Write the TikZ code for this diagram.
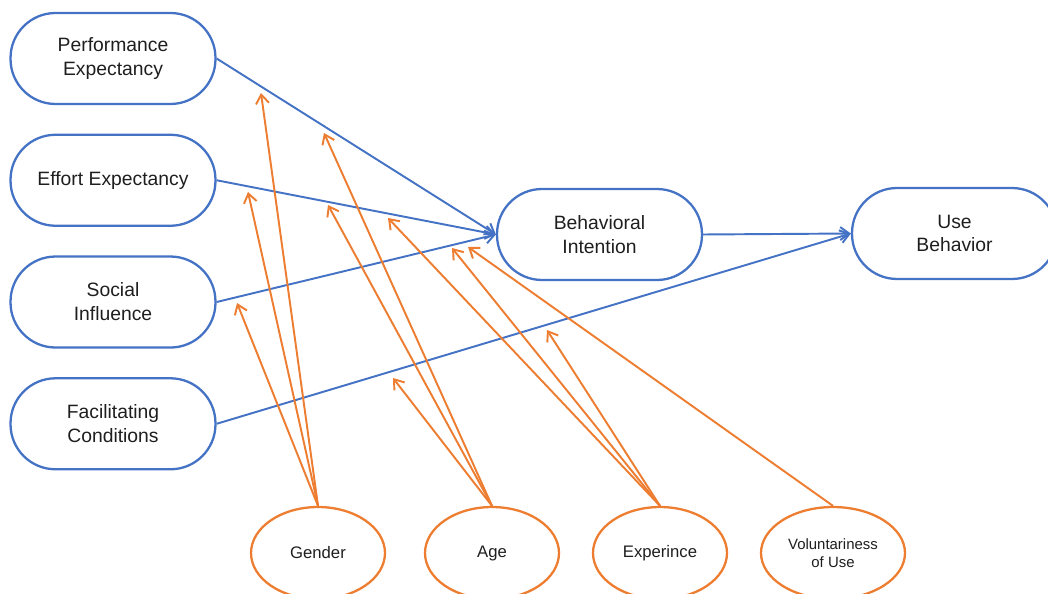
\documentclass[tikz,border=0pt]{standalone}
\usepackage{fontspec}
\setmainfont{Liberation Sans}
\usetikzlibrary{positioning,shapes.geometric,arrows.meta}
\definecolor{utblue}{HTML}{4472C4}
\definecolor{utorange}{HTML}{ED7D31}
\definecolor{uttext}{HTML}{1E1E1E}

\begin{document}
\begin{tikzpicture}[x=0.02cm, y=-0.02cm]
        \tikzstyle{construct}=[draw=utblue, line width=1.3pt, rectangle, rounded corners=0.9cm, minimum width=4.1cm, minimum height=1.82cm, align=center, text=uttext, font=\fontsize{11}{13.6}\selectfont]
        \tikzstyle{moderator}=[draw=utorange, line width=1.3pt, ellipse, inner sep=0pt, minimum width=2.68cm, minimum height=1.84cm, align=center, text=uttext, font=\fontsize{9.5}{11}\selectfont]
        \tikzstyle{effect}=[draw=utblue, line width=1.1pt, -{Straight Barb[length=1.8mm, width=2.6mm]}]
        \tikzstyle{moderation}=[draw=utorange, line width=1.1pt, -{Straight Barb[length=1.8mm, width=2.6mm]}]

        \useasboundingbox (0,0) rectangle (1048,594);

        \node   (pe)  [construct] at (113,58.5) {Performance\\Expectancy};
        \node   (ee)  [construct, below=0.57cm of pe] {Effort Expectancy};
        \node   (si)  [construct, below=0.57cm of ee] {Social\\Influence};
        \node   (fc)  [construct, below=0.57cm of si] {Facilitating\\Conditions};
        \node   (bi)  [construct] at (599.5,234.5) {Behavioral\\Intention};
        \node   (ub)  [construct] at (954.5,233.5) {Use\\Behavior};

        \node   (gen) [moderator] at (318,553) {Gender};
        \node   (age) [moderator] at (492,553) {Age};
        \node   (exp) [moderator] at (660,553) {Experince};
        \node   (vol) [moderator, minimum width=2.88cm, font=\fontsize{8.5}{10.2}\selectfont] at (833,553) {Voluntariness\\of Use};

        \draw[effect] (pe.east) -- (bi.west);
        \draw[effect] (ee.east) -- (bi.west);
        \draw[effect] (si.east) -- (bi.west);
        \draw[effect] (fc.east) -- (ub.west);
        \draw[effect] (bi.east) -- (ub.west);

        \coordinate (gen1) at (261,93);
        \coordinate (gen2) at (248,192);
        \coordinate (gen3) at (237,303);
        \coordinate (age1) at (324,133);
        \coordinate (age2) at (328,205);
        \coordinate (age3) at (393,378);
        \coordinate (exp1) at (388,218);
        \coordinate (exp2) at (452,248);
        \coordinate (exp3) at (547,330);
        \coordinate (vol1) at (468,247);

        \foreach \m/\t in {gen/gen1, gen/gen2, gen/gen3, age/age1, age/age2, age/age3, exp/exp1, exp/exp2, exp/exp3, vol/vol1}
            \draw[moderation] (\m.north) -- (\t);

    \end{tikzpicture}
\end{document}
